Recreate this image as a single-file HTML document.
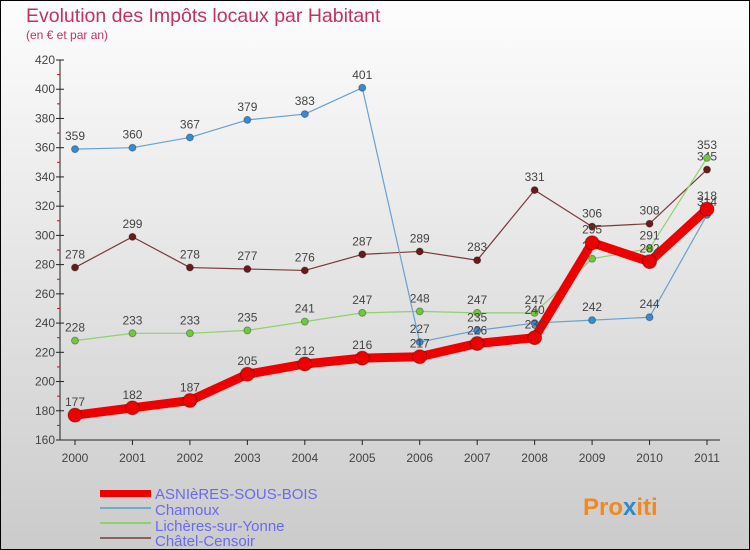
<!DOCTYPE html>
<html><head><meta charset="utf-8"><style>
body{margin:0;width:750px;height:550px;overflow:hidden;font-family:"Liberation Sans",sans-serif}
svg{display:block}
</style></head><body>
<svg width="750" height="550">
<defs><linearGradient id="bg" x1="0" y1="0" x2="0" y2="1"><stop offset="0" stop-color="#fdfdfd"/><stop offset="1" stop-color="#cbcbcb"/></linearGradient></defs>
<rect x="0.5" y="0.5" width="749" height="549" fill="url(#bg)" stroke="#000"/>
<text x="26" y="22" font-size="19.5" fill="#c0335e">Evolution des Impôts locaux par Habitant</text>
<text x="26" y="39" font-size="12" fill="#c0335e">(en € et par an)</text>
<g id="axes"></g><g id="series"></g>
<g>
<rect x="100" y="490" width="51" height="7" fill="#e00"/>
<text x="155" y="499" font-size="15" fill="#6a6aee">ASNIèRES-SOUS-BOIS</text>
<rect x="100" y="507" width="51" height="2" fill="#7aa7c8"/>
<text x="155" y="515" font-size="15" fill="#6a6aee">Chamoux</text>
<rect x="100" y="522" width="51" height="2" fill="#90d070"/>
<text x="155" y="531" font-size="15" fill="#6a6aee">Lichères-sur-Yonne</text>
<rect x="100" y="537" width="51" height="2" fill="#8a6060"/>
<text x="155" y="546" font-size="15" fill="#6a6aee">Châtel-Censoir</text>
</g>
<text x="583" y="515" font-size="24" font-weight="bold" fill="#f08a20">Pro<tspan fill="#2a8ad0">x</tspan>iti</text>
</svg>
<script>
const years=[2000,2001,2002,2003,2004,2005,2006,2007,2008,2009,2010,2011];
const yTicks=[160,180,200,220,240,260,280,300,320,340,360,380,400,420];
const asnieres=[177,182,187,205,212,216,217,226,230,295,282,318];
const chamoux=[359,360,367,379,383,401,227,235,240,242,244,314];
const licheres=[228,233,233,235,241,247,248,247,247,284,291,353];
const chatel=[278,299,278,277,276,287,289,283,331,306,308,345];
const NS="http://www.w3.org/2000/svg";
const xs=i=>75+i*(707-75)/11;
const ys=v=>60+(420-v)*(380/260);
function mk(t,a,p){const e=document.createElementNS(NS,t);for(const k in a)e.setAttribute(k,a[k]);p.appendChild(e);return e;}
const ax=document.getElementById('axes');
const yl=mk('line',{x1:60,y1:60,x2:60,y2:440,stroke:'#222'},ax);


const xl=mk('line',{x1:60,y1:440,x2:720,y2:440,stroke:'#222'},ax);


yTicks.forEach(v=>{const y=ys(v);mk('line',{x1:56,x2:64,y1:y,y2:y,stroke:'#222'},ax);
if(v<420)mk('line',{x1:57,x2:60,y1:y-14.6,y2:y-14.6,stroke:'#e00'},ax);
const t=mk('text',{x:55,y:y+4,'text-anchor':'end','font-size':12,fill:'#444'},ax);t.textContent=v;

});
years.forEach((yr,i)=>{const x=xs(i);mk('line',{x1:x,x2:x,y1:440,y2:445,stroke:'#222'},ax);
const t=mk('text',{x:x,y:462,'text-anchor':'middle','font-size':12,fill:'#444'},ax);t.textContent=yr;

});
const sg=document.getElementById('series');
function draw(name,data,color,w,r,dot){
const g=mk('g',{},sg);


mk('polyline',{points:data.map((v,i)=>xs(i)+','+ys(v)).join(' '),fill:'none',stroke:color,'stroke-width':w,'stroke-linejoin':'round'},g);
data.forEach((v,i)=>{const c=mk('circle',{cx:xs(i),cy:ys(v),r:r,fill:dot,stroke:'rgba(0,0,0,0.3)'},g);


const t=mk('text',{x:xs(i),y:ys(v)-9,'text-anchor':'middle','font-size':12,fill:'#444'},g);t.textContent=v;

});}
draw('series-chatel',chatel,'#7a3a3a',1.2,3.5,'#6a1a1a');
draw('series-licheres',licheres,'#90d070',1.2,3.5,'#70c840');
draw('series-chamoux',chamoux,'#6aa0d0',1.2,3.5,'#3a8ad0');
draw('series-asnieres',asnieres,'#e00',9,7,'#e00');
</script>
</body></html>
